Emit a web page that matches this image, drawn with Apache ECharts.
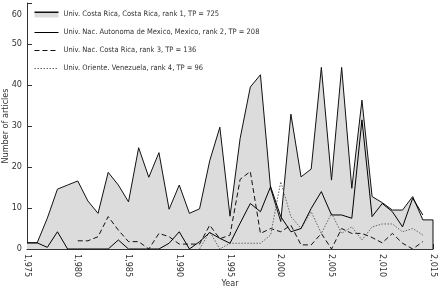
<!DOCTYPE html>
<html>
<head>
<meta charset="utf-8">
<script src="https://cdn.jsdelivr.net/npm/echarts@6/dist/echarts.min.js"></script>
<style>
  html, body {margin: 0; padding: 0; background: #fff;}
  #chart {width: 445px; height: 291px;}
</style>
</head>
<body>
<div id="chart"></div>
<script>
const years = [];
for (let y = 1975; y <= 2015; y++) years.push(y);

const names = [
  'Univ. Costa Rica, Costa Rica, rank 1, TP = 725',
  'Univ. Nac. Autonoma de Mexico, Mexico, rank 2, TP = 208',
  'Univ. Nac. Costa Rica, rank 3, TP = 136',
  'Univ. Oriente. Venezuela, rank 4, TP = 96'
];

// 1975 .. 2015, null = no data
const costaRica = [1.5, 1.5, 7.5, 14.6, 15.6, 16.6, 11.7, 8.7, 18.7, 15.6,
  11.5, 24.7, 17.5, 23.5, 9.7, 15.6, 8.7, 9.8, 21.5, 29.7,
  8, 27, 39.5, 42.5, 14.8, 6.7, 32.9, 17.6, 19.5, 44.3,
  16.8, 44.3, 14.8, 36.3, 12.8, 11.3, 9.5, 9.5, 12.8, 7.1, 7.1];
const mexico = [1.5, 1.5, 0.4, 4.2, 0, 0, 0, 0, 0, 2.2,
  0, 0, 0, 0, 1.4, 4.2, 0, 1.8, 4, 2.6,
  1.4, 6.3, 11.1, 9.1, 15.2, 7.9, 4.2, 5, 9.9, 14,
  8.3, 8.3, 7.5, 31.5, 7.9, 11.1, 9.1, 5.4, 12.4, 8.3, null];
const nacCostaRica = [null, null, null, null, null, 2, 2, 3, 7.9, 4.6,
  1.8, 1.8, 0, 3.8, 3, 1.2, 1.2, 1.2, 5.8, 2.5,
  3.4, 17, 18.9, 3.8, 5, 4.2, 5.8, 1, 1, 3.8,
  0, 5, 3.8, 3.8, 2.8, 1.5, 3.8, 1.4, 0, 1.8, null];
const venezuela = [null, null, null, null, null, null, null, null, null, null,
  null, null, null, null, null, null, null, 0, 4.2, 0,
  1.4, 1.4, 1.4, 1.4, 3.4, 16.4, 7.9, 5, 9.1, 3.8,
  8.7, 3.8, 5.4, 2.2, 5.4, 6.1, 6.1, 4.2, 5, 3.4, null];

const pairs = vals => years.map((y, i) => [y, vals[i]]);
const lastYear = years[years.length - 1];
const lastCR = costaRica[costaRica.length - 1];

const textColor = '#333';
const font = "'DejaVu Sans Condensed', 'Liberation Sans', sans-serif";
const noSymbol = {opacity: 0};

const chart = echarts.init(document.getElementById('chart'));
chart.setOption({
  animation: false,
  textStyle: {fontFamily: font},
  grid: {left: 27, right: 12, top: 3, bottom: 42, containLabel: false, outerBoundsMode: 'none'},
  legend: {
    orient: 'vertical',
    left: 34,
    top: 10.5,
    padding: 0,
    itemWidth: 24,
    itemHeight: 6,
    itemGap: 10,
    textStyle: {color: textColor, fontSize: 7.5, fontFamily: font},
    data: [
      {name: names[0], icon: 'rect', itemStyle: {
        color: {type: 'linear', x: 0, y: 0, x2: 0, y2: 1, colorStops: [
          {offset: 0, color: '#111'}, {offset: 0.25, color: '#111'},
          {offset: 0.25, color: '#dcdcdc'}, {offset: 1, color: '#dcdcdc'}
        ]}
      }},
      {name: names[1], itemStyle: noSymbol, lineStyle: {width: 1}},
      {name: names[2], itemStyle: noSymbol, lineStyle: {width: 1}},
      {name: names[3], itemStyle: noSymbol, lineStyle: {width: 1}}
    ]
  },
  xAxis: {
    type: 'value',
    min: 1975,
    max: 2015,
    interval: 5,
    name: 'Year',
    nameLocation: 'middle',
    nameGap: 30,
    nameMoveOverlap: false,
    nameTextStyle: {color: textColor, fontSize: 9, fontFamily: font},
    axisLine: {lineStyle: {color: '#333', width: 1}},
    axisTick: {inside: true, length: 5, lineStyle: {color: '#333'}},
    axisLabel: {rotate: -90, color: textColor, fontSize: 9, margin: 5, fontFamily: font},
    splitLine: {show: false}
  },
  yAxis: {
    type: 'value',
    min: 0,
    max: 60,
    interval: 10,
    name: 'Number of articles',
    nameLocation: 'middle',
    nameGap: 16.5,
    nameMoveOverlap: false,
    nameTextStyle: {color: textColor, fontSize: 9, fontFamily: font},
    axisLine: {show: true, lineStyle: {color: '#333', width: 1}},
    axisTick: {show: true, inside: true, length: 5, lineStyle: {color: '#333'}},
    axisLabel: {
      color: textColor, fontSize: 9, margin: 5, fontFamily: font,
      formatter: v => v === 60 ? '{t|60}' : String(v),
      rich: {t: {padding: [24, 0, 0, 0], fontSize: 9, color: textColor, fontFamily: font}}
    },
    splitLine: {show: false}
  },
  series: [
    {
      name: names[0], type: 'line', data: pairs(costaRica), symbol: 'none',
      lineStyle: {color: '#111', width: 1},
      itemStyle: {color: '#111'},
      areaStyle: {color: '#dcdcdc', opacity: 1},
      z: 1
    },
    {
      name: names[0] + ' edge', type: 'line', symbol: 'none', silent: true,
      data: [[lastYear, 0], [lastYear, lastCR]],
      lineStyle: {color: '#111', width: 1}, z: 1
    },
    {
      name: names[1], type: 'line', data: pairs(mexico), symbol: 'none',
      lineStyle: {color: '#000', width: 1}, itemStyle: {color: '#000'}, z: 3
    },
    {
      name: names[2], type: 'line', data: pairs(nacCostaRica), symbol: 'none',
      lineStyle: {color: '#111', width: 1, type: [5, 3]}, itemStyle: {color: '#111'}, z: 2
    },
    {
      name: names[3], type: 'line', data: pairs(venezuela), symbol: 'none',
      lineStyle: {color: '#666', width: 1, type: [1.5, 1.5]}, itemStyle: {color: '#666'}, z: 2
    }
  ]
});
</script>
</body>
</html>
